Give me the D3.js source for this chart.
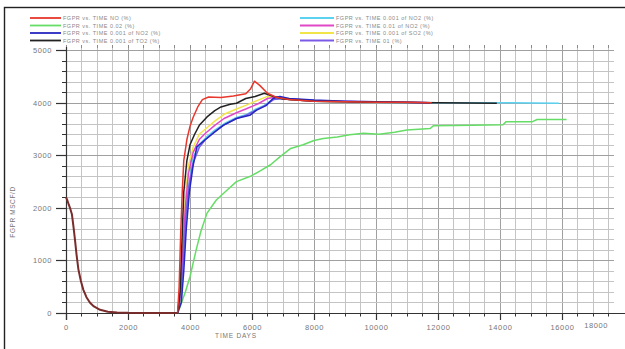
<!DOCTYPE html>
<html>
<head>
<meta charset="utf-8">
<script src="https://cdn.jsdelivr.net/npm/d3@7/dist/d3.min.js"></script>
<style>
  html, body { margin: 0; padding: 0; background: #fff; }
  svg { display: block; font-family: "Liberation Sans", "DejaVu Sans", sans-serif; }
</style>
</head>
<body>
<svg id="chart" width="625" height="349"></svg>
<script>
// Shared production history before the shut-in (TIME days, FGPR)
const historyCase = [[0,2200],[40,2150],[90,2060],[140,1980],[190,1880],[240,1650],[290,1390],[340,1110],[400,830],[480,610],[560,440],[660,300],[775,195],[900,125],[1100,60],[1350,25],[1650,10],[2000,3],[2500,0],[3000,0],[3600,0]];

// Post-restart responses of each case
const redCase = [[3600,0],[3650,500],[3700,1500],[3750,2300],[3800,2900],[3900,3300],[4000,3550],[4100,3720],[4250,3920],[4400,4060],[4600,4110],[5000,4100],[5400,4130],[5800,4170],[5950,4260],[6080,4410],[6250,4330],[6500,4180],[6800,4100],[7200,4060],[8000,4030],[9000,4020],[10000,4010],[11000,4010],[11800,4000]];
const greenCase = [[3600,0],[3700,150],[3850,400],[4000,690],[4200,1200],[4350,1550],[4550,1900],[4850,2150],[5200,2340],[5500,2500],[5950,2600],[6250,2700],[6600,2820],[6900,2970],[7250,3130],[7650,3200],[8000,3280],[8300,3320],[8750,3350],[9150,3390],[9600,3420],[10100,3400],[10600,3440],[11000,3480],[11750,3510],[11850,3560],[13100,3570],[14100,3580],[14200,3640],[15050,3640],[15200,3680],[16150,3680]];
const blueCase = [[3600,0],[3720,200],[3800,800],[3880,1600],[3980,2300],[4100,2800],[4220,3160],[4500,3300],[4750,3420],[5070,3570],[5500,3700],[5930,3760],[6150,3860],[6470,3950],[6680,4080],[6900,4120],[7200,4080],[8000,4050],[9000,4030],[10000,4020],[11000,4010],[11800,4000]];
const blackCase = [[3600,0],[3680,400],[3750,1500],[3800,2300],[3900,2900],[4000,3200],[4150,3400],[4300,3570],[4550,3730],[4800,3850],[5000,3920],[5300,3970],[5500,3990],[5800,4080],[6100,4120],[6400,4180],[6700,4120],[7000,4070],[8000,4030],[10000,4010],[12000,4000],[13900,3990]];
const cyanCase = [[3600,0],[3720,300],[3800,1100],[3880,1900],[3980,2500],[4100,2950],[4300,3200],[4500,3330],[4800,3480],[5100,3600],[5500,3720],[5800,3770],[6100,3870],[6400,3950],[6700,4080],[7000,4070],[8000,4030],[10000,4010],[12000,4000],[14000,4000],[15900,3990]];
const magentaCase = [[3600,0],[3700,400],[3770,1200],[3850,2000],[3950,2650],[4100,3050],[4300,3300],[4500,3420],[4800,3570],[5100,3700],[5500,3810],[5800,3880],[6200,3980],[6500,4080],[6800,4110],[7200,4060],[8000,4030],[10000,4020],[11700,4000]];
const yellowCase = [[3600,0],[3700,300],[3770,1300],[3850,2200],[3950,2800],[4100,3150],[4300,3400],[4500,3500],[4800,3650],[5100,3780],[5500,3880],[5800,3950],[6200,4050],[6500,4120],[6800,4100],[7200,4060],[8000,4030],[10000,4010],[11800,4000]];
const purpleCase = [[3600,0],[3700,350],[3780,1000],[3860,1800],[3960,2400],[4100,2850],[4300,3150],[4500,3300],[4800,3450],[5100,3580],[5500,3700],[5800,3760],[6100,3850],[6400,3940],[6700,4060],[7000,4080],[8000,4040],[10000,4010],[11750,4000]];

// Legend labels and axis ticks
const legendLeft = ["FGPR vs. TIME  NO (%)", "FGPR vs. TIME  0.02 (%)", "FGPR vs. TIME  0.001 of NO2 (%)", "FGPR vs. TIME  0.001 of TO2 (%)"];
const legendRight = ["FGPR vs. TIME  0.001 of NO2 (%)", "FGPR vs. TIME  0.01 of NO2 (%)", "FGPR vs. TIME  0.001 of SO2 (%)", "FGPR vs. TIME  01 (%)"];
const xTicks = [0, 2000, 4000, 6000, 8000, 10000, 12000, 14000, 16000];
const xEndLabel = "18000";
const yTicks = [0, 1000, 2000, 3000, 4000, 5000];

const series = [
  { name: legendLeft[1], color: "#66dd66", data: greenCase },
  { name: legendRight[0], color: "#5ad2f0", data: cyanCase },
  { name: legendRight[2], color: "#f2e54a", data: yellowCase },
  { name: legendRight[1], color: "#e048c8", data: magentaCase },
  { name: legendRight[3], color: "#7a5ae6", data: purpleCase },
  { name: legendLeft[2], color: "#2626c0", data: blueCase },
  { name: legendLeft[3], color: "#222222", data: blackCase },
  { name: legendLeft[0], color: "#e8372c", data: redCase }
];

const svg = d3.select("#chart");
const W = 625;

const x = d3.scaleLinear().domain([0, 17680]).range([66, 614]);
const y = d3.scaleLinear().domain([0, 5060]).range([313, 47]);
// pixel-snapped copies for the grid and small ticks so 1px lines stay sharp
const xg = x.copy().interpolate(d3.interpolateRound);
const yg = y.copy().interpolate(d3.interpolateRound);
const yTop = y.range()[1], yBase = y(0), xLeft = x(0), xRight = x.range()[1];
const axisColor = "#333";

// outer frame
svg.append("rect").attr("x", 4.5).attr("y", 7.5).attr("width", 640).attr("height", 360)
  .attr("fill", "none").attr("stroke", "#222").attr("stroke-width", 1.4);

// grid, built from axis generators with full-length ticks
const xMinor = d3.range(0, 17680, 500);
const yMinor = d3.range(0, 5061, 200);

function styleGrid(sel, isMajor) {
  sel.select(".domain").remove();
  sel.selectAll(".tick line")
    .attr("stroke", d => isMajor(d) ? "#a0a0a0" : "#c4c4c4").attr("stroke-width", 1);
}
const gridX = svg.append("g").attr("transform", `translate(0,${Math.round(yBase)})`)
  .call(d3.axisBottom(xg).tickValues(xMinor).tickSize(-(yBase - yTop)).tickFormat(""));
styleGrid(gridX, d => d % 2000 === 0);
const gridY = svg.append("g").attr("transform", `translate(${Math.round(xLeft)},0)`)
  .call(d3.axisLeft(yg).tickValues(yMinor).tickSize(-(xRight - xLeft)).tickFormat(""));
styleGrid(gridY, d => d % 1000 === 0);

// tick row along the top edge
const topRow = svg.append("g").attr("transform", `translate(0,${Math.round(yTop) + 1})`)
  .call(d3.axisTop(xg).tickValues(xMinor).tickSize(3).tickFormat(""));
topRow.select(".domain").remove();
topRow.selectAll(".tick line").attr("stroke", "#8a8a8a");

// minor axis ticks
const xMinorAxis = svg.append("g").attr("transform", `translate(0,${Math.round(yBase)})`)
  .call(d3.axisBottom(xg).tickValues(xMinor.filter(d => d % 2000 !== 0)).tickSize(3.5).tickFormat(""));
xMinorAxis.select(".domain").remove();
xMinorAxis.selectAll(".tick line").attr("stroke", axisColor);
const yMinorAxis = svg.append("g").attr("transform", `translate(${Math.round(xLeft)},0)`)
  .call(d3.axisLeft(yg).tickValues(yMinor.filter(d => d % 1000 !== 0)).tickSize(4).tickFormat(""));
yMinorAxis.select(".domain").remove();
yMinorAxis.selectAll(".tick line").attr("stroke", axisColor);

// axis lines
svg.append("line").attr("x1", 56).attr("x2", W).attr("y1", Math.round(yBase) + 0.5).attr("y2", Math.round(yBase) + 0.5)
  .attr("stroke", axisColor).attr("stroke-width", 1.2);
svg.append("line").attr("x1", Math.round(xLeft) + 0.5).attr("x2", Math.round(xLeft) + 0.5).attr("y1", yTop).attr("y2", yBase + 7)
  .attr("stroke", axisColor).attr("stroke-width", 1.2);

// labelled axes
const xAxis = d3.axisBottom(xg).tickValues(xTicks).tickSize(7).tickFormat(d3.format("d"));
const xa = svg.append("g").attr("transform", `translate(0,${Math.round(yBase)})`).call(xAxis);
xa.select(".domain").remove();
xa.selectAll(".tick line").attr("stroke", axisColor).attr("stroke-width", 1.2);
xa.selectAll(".tick text").attr("fill", "#777").attr("font-size", 7.5).attr("dy", "0.9em")
  .attr("letter-spacing", 0.6);
svg.append("text").attr("x", xRight - 6).attr("y", yBase + 14.5)
  .attr("text-anchor", "end").attr("fill", "#777").attr("font-size", 7.5)
  .attr("letter-spacing", 0.6).text(xEndLabel);

const yAxis = d3.axisLeft(yg).tickValues(yTicks).tickSize(10).tickFormat(d3.format("d"));
const ya = svg.append("g").attr("transform", `translate(${Math.round(xLeft)},0)`).call(yAxis);
ya.select(".domain").remove();
ya.selectAll(".tick line").attr("stroke", axisColor).attr("stroke-width", 1.2);
ya.selectAll(".tick text").attr("fill", "#777").attr("font-size", 7.5).attr("x", -14)
  .attr("letter-spacing", 0.6);

// axis titles
svg.append("text").attr("x", 236).attr("y", 338).attr("text-anchor", "middle")
  .attr("fill", "#777").attr("font-size", 6.5).attr("letter-spacing", 0.8).text("TIME   DAYS");
svg.append("text").attr("transform", "translate(15,212) rotate(-90)").attr("text-anchor", "middle")
  .attr("fill", "#777").attr("font-size", 6.5).attr("letter-spacing", 0.6).text("FGPR   MSCF/D");

// curves: the common history is overdrawn by every case, so it reads as a dark maroon trace
const lineGen = d3.line().x(d => x(d[0])).y(d => y(d[1]));
const curves = svg.append("g");
series.forEach(s => {
  curves.append("path").datum(s.data)
    .attr("d", lineGen).attr("fill", "none")
    .attr("stroke", s.color).attr("stroke-width", 1.5).attr("stroke-linejoin", "round");
});
curves.append("path").datum(historyCase)
  .attr("d", lineGen).attr("fill", "none")
  .attr("stroke", "#7a2b2b").attr("stroke-width", 2).attr("stroke-linejoin", "round");

// legend
const leftColors = ["#e8372c", "#66dd66", "#2626c0", "#222222"];
const rightColors = ["#5ad2f0", "#e048c8", "#f2e54a", "#7a5ae6"];
const rowsY = [18, 25.5, 33, 40.5];
function legendColumn(labels, colors, x0, x1) {
  const lg = svg.append("g");
  labels.forEach((t, i) => {
    lg.append("line").attr("x1", x0).attr("x2", x1).attr("y1", rowsY[i]).attr("y2", rowsY[i])
      .attr("stroke", colors[i]).attr("stroke-width", 1.8);
    lg.append("text").attr("x", x1 + 2).attr("y", rowsY[i] + 2).attr("fill", "#8a8a8a")
      .attr("font-size", 5.5).attr("letter-spacing", 0.5).text(t);
  });
}
legendColumn(legendLeft, leftColors, 30, 61);
legendColumn(legendRight, rightColors, 300, 334);
</script>
</body>
</html>
